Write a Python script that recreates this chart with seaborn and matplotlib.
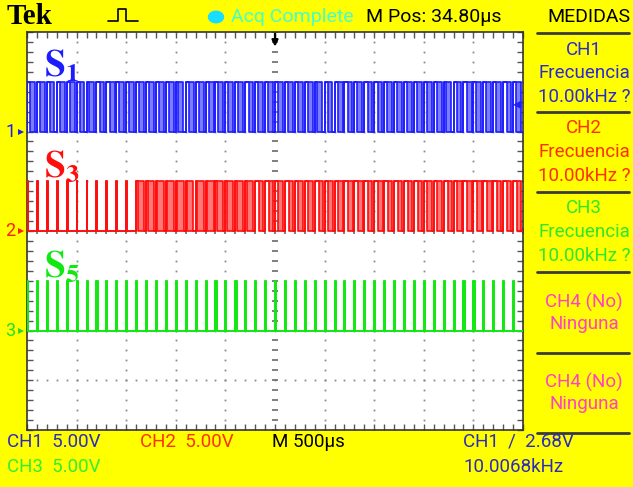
import numpy as np
import pandas as pd
import seaborn as sns
import matplotlib
matplotlib.use("Agg")
import matplotlib.pyplot as plt
from matplotlib.lines import Line2D
from matplotlib.patches import Circle

# ---------------------------------------------------------------- data
channels = ["CH1", "CH2", "CH3"]
ground_div = [2.0, 0.0, -2.0]          # channel ground markers (divisions)
volts_per_div = 5.0
pulse_volts = 5.0
period_div = 0.2                        # 100 us at 500 us/div
trigger_level_v = 2.68

# PWM fall edges per carrier period (fraction of the period); the
# persistence display keeps the earliest (a) and latest (b) fall edge.
s1_fall_a = [0.32, 0.30, 0.28, 0.31, 0.33, 0.30, 0.29, 0.32, 0.34, 0.31,
             0.28, 0.30, 0.32, 0.31, 0.29, 0.27, 0.30, 0.33, 0.32, 0.30,
             0.28, 0.31, 0.34, 0.32, 0.30, 0.29, 0.31, 0.33, 0.30, 0.28,
             0.30, 0.32, 0.31, 0.29, 0.33, 0.34, 0.31, 0.29, 0.30, 0.32,
             0.33, 0.30, 0.28, 0.31, 0.32, 0.30, 0.29, 0.32, 0.34, 0.31]
s1_fall_b = [0.80, 0.78, 0.77, 0.80, 0.82, 0.79, 0.78, 0.81, 0.83, 0.80,
             0.77, 0.79, 0.81, 0.80, 0.78, 0.76, 0.79, 0.82, 0.81, 0.79,
             0.77, 0.80, 0.83, 0.81, 0.79, 0.78, 0.80, 0.82, 0.79, 0.77,
             0.79, 0.81, 0.80, 0.78, 0.82, 0.83, 0.80, 0.78, 0.79, 0.81,
             0.82, 0.79, 0.77, 0.80, 0.81, 0.79, 0.78, 0.81, 0.83, 0.80]

s3_fall_a = [0.08, 0.09, 0.08, 0.10, 0.09, 0.08, 0.09, 0.10, 0.09, 0.08,
             0.09, 0.14, 0.15, 0.14, 0.16, 0.15, 0.13, 0.16, 0.17, 0.15,
             0.14, 0.18, 0.20, 0.36, 0.37, 0.35, 0.38, 0.36, 0.37, 0.39,
             0.36, 0.35, 0.38, 0.37, 0.36, 0.38, 0.37, 0.35, 0.36, 0.38,
             0.37, 0.36, 0.39, 0.37, 0.35, 0.36, 0.38, 0.37, 0.36, 0.37]
s3_fall_b = [0.08, 0.09, 0.08, 0.10, 0.09, 0.08, 0.09, 0.10, 0.09, 0.08,
             0.09, 0.78, 0.80, 0.79, 0.81, 0.80, 0.78, 0.81, 0.82, 0.80,
             0.79, 0.82, 0.83, 0.82, 0.83, 0.81, 0.84, 0.82, 0.83, 0.85,
             0.82, 0.81, 0.84, 0.83, 0.82, 0.84, 0.83, 0.81, 0.82, 0.84,
             0.83, 0.82, 0.85, 0.83, 0.81, 0.82, 0.84, 0.83, 0.82, 0.83]

s5_fall = [0.10, 0.11, 0.10, 0.12, 0.10, 0.11, 0.10, 0.12, 0.11, 0.10,
           0.11, 0.10, 0.12, 0.10, 0.11, 0.10, 0.11, 0.12, 0.10, 0.11,
           0.10, 0.12, 0.11, 0.10, 0.11, 0.10, 0.12, 0.10, 0.11, 0.10,
           0.11, 0.12, 0.10, 0.11, 0.10, 0.12, 0.11, 0.10, 0.11, 0.10,
           0.12, 0.10, 0.11, 0.10, 0.11, 0.12, 0.10, 0.11, 0.10, 0.11]

trace_colors = {"CH1": "#1c1cff", "CH2": "#ff0c0c", "CH3": "#10e810"}
fill_colors = {"CH1": "#7d7dff", "CH2": "#ff7878", "CH3": "#80f080"}

# ---------------------------------------------------------------- figure
W, H = 633, 487
YELLOW = "#ffff00"
sns.set_theme(style="white")
plt.rcParams["font.family"] = ["Roboto", "DejaVu Sans"]
plt.rcParams["mathtext.fontset"] = "stix"

fig = plt.figure(figsize=(W / 100, H / 100), dpi=100, facecolor=YELLOW)
ax = fig.add_axes([27 / W, 1 - 430 / H, 496 / W, 398 / H])
ax.set_facecolor("white")


def fx(x):
    return x / W


def fy(y):
    return 1 - y / H


# graticule: dotted division lines, ticked centre cross, ticked frame
fine = np.arange(0, 10.001, 0.2)
fine_y = np.arange(-4, 4.001, 0.2)
for xd in range(1, 10):
    if xd == 5:
        continue
    ax.plot(np.full_like(fine_y, xd), fine_y, ls="none", marker="s",
            ms=1.3, color="#8a8a8a", mew=0, zorder=1)
for yd in range(-3, 4):
    if yd == 0:
        continue
    ax.plot(fine, np.full_like(fine, yd), ls="none", marker="s",
            ms=1.3, color="#8a8a8a", mew=0, zorder=1)
ax.plot(np.full_like(fine_y, 5), fine_y, ls="none", marker="_", ms=5,
        mew=1.2, color="#6a6a6a", zorder=1)
ax.plot(fine, np.zeros_like(fine), ls="none", marker="|", ms=5,
        mew=1.2, color="#6a6a6a", zorder=1)

# ---------------------------------------------------------------- traces
amp_div = pulse_volts / volts_per_div
edges = {"CH1": (s1_fall_a, s1_fall_b),
         "CH2": (s3_fall_a, s3_fall_b),
         "CH3": (s5_fall, s5_fall)}

# persistence shading between earliest and latest fall edge
for ch, g in zip(channels, ground_div):
    fa, fb = edges[ch]
    spans = [(k * period_div + a * period_div, (b - a) * period_div)
             for k, (a, b) in enumerate(zip(fa, fb)) if b > a]
    if spans:
        ax.broken_barh(spans, (g, amp_div), facecolors=fill_colors[ch],
                       edgecolors="none", zorder=2)

rows = []
for ch, g in zip(channels, ground_div):
    fa, fb = edges[ch]
    for name, duty in (("a", fa), ("b", fb)):
        for k, d in enumerate(duty):
            t0 = k * period_div
            for t, v in ((t0, g), (t0, g + amp_div),
                         (t0 + d * period_div, g + amp_div),
                         (t0 + d * period_div, g),
                         (t0 + period_div, g)):
                rows.append({"channel": ch, "trace": f"{ch}-{name}",
                             "t": t, "y": v})
wave = pd.DataFrame(rows)

sns.lineplot(data=wave, x="t", y="y", hue="channel", units="trace",
             estimator=None, sort=False, palette=trace_colors,
             linewidth=1.2, legend=False, ax=ax, zorder=3)
ax.set_xlabel("")
ax.set_ylabel("")
ax.set_xlim(0, 10)
ax.set_ylim(-4, 4)
ax.set_xticks(fine)
ax.set_yticks(fine_y)
ax.tick_params(axis="both", which="both", direction="in", length=4,
               width=1, color="#555555", labelbottom=False, labelleft=False,
               top=True, right=True, bottom=True, left=True)
for sp in ax.spines.values():
    sp.set_color("#333333")
    sp.set_linewidth(1.2)

# signal names
sig_names = [r"$\mathbf{S}_{\mathbf{1}}$", r"$\mathbf{S}_{\mathbf{3}}$",
             r"$\mathbf{S}_{\mathbf{5}}$"]
for name, ch, y in zip(sig_names, channels, (66, 166, 266)):
    fig.text(fx(44), fy(y), name, color=trace_colors[ch], fontsize=27,
             va="center", ha="left")

# channel ground markers on the left edge
marker_cols = ["#2020e0", "#ff2000", "#22e022"]
for i, (g, c) in enumerate(zip(ground_div, marker_cols)):
    ax.text(-0.33, g, str(i + 1), color=c, fontsize=13, ha="center",
            va="center", clip_on=False)
    ax.plot([-0.12], [g], marker=">", ms=5, color=c, clip_on=False,
            mew=0)

# trigger position (top) and trigger level (right) markers
ax.annotate("", xy=(5, 3.65), xytext=(5, 4.02),
            arrowprops=dict(arrowstyle="-|>", color="black", lw=1.6,
                            mutation_scale=9), annotation_clip=False)
trig_y = ground_div[0] + trigger_level_v / volts_per_div
ax.annotate("", xy=(9.74, trig_y), xytext=(10.0, trig_y),
            arrowprops=dict(arrowstyle="-|>", color="#1f1fff", lw=1.6,
                            mutation_scale=9), annotation_clip=False)

# ---------------------------------------------------------------- header
fig.text(fx(7), fy(17), "Tek", fontsize=21, fontweight="bold",
         family="Liberation Serif", va="center", ha="left", color="black")
icon_x = [108, 114, 118, 118, 126, 126, 130, 138]
icon_y = [21, 21, 21, 9, 9, 21, 21, 21]
fig.add_artist(Line2D([fx(v) for v in icon_x], [fy(v) for v in icon_y],
                      color="black", lw=1.2))
fig.add_artist(Circle((fx(216), fy(17)), 7.5 / W, color="#18ddff",
                      transform=fig.transFigure))
fig.text(fx(231), fy(17), "Acq Complete", fontsize=14, color="#44ffcc",
         va="center", ha="left")
fig.text(fx(366), fy(17), "M Pos: 34.80µs", fontsize=14, color="black",
         va="center", ha="left")
fig.text(fx(589), fy(17), "MEDIDAS", fontsize=14, color="black",
         va="center", ha="center")

# ---------------------------------------------------------------- side panel
for yy in (33, 112, 192, 272, 353, 433):
    fig.add_artist(Line2D([fx(537), fx(629)], [fy(yy), fy(yy)],
                          color="#3a3a3a", lw=2))

panel = [
    (("CH1", 50), ("Frecuencia", 73), ("10.00kHz ?", 97), "#2b2bd0"),
    (("CH2", 128), ("Frecuencia", 152), ("10.00kHz ?", 176), "#ff3000"),
    (("CH3", 208), ("Frecuencia", 232), ("10.00kHz ?", 256), "#2ee62e"),
    (("CH4 (No)", 302), ("Ninguna", 324), None, "#ff40c8"),
    (("CH4 (No)", 382), ("Ninguna", 404), None, "#ff40c8"),
]
for block in panel:
    col = block[-1]
    for item in block[:-1]:
        if item is None:
            continue
        txt, yy = item
        fig.text(fx(584), fy(yy), txt, fontsize=13.5, color=col,
                 ha="center", va="center")

# ---------------------------------------------------------------- footer
fig.text(fx(7), fy(442), "CH1  5.00V", fontsize=13.5, color="#2b2bc0",
         va="center", ha="left")
fig.text(fx(140), fy(442), "CH2  5.00V", fontsize=13.5, color="#ff3000",
         va="center", ha="left")
fig.text(fx(272), fy(442), "M 500µs", fontsize=13.5, color="black",
         va="center", ha="left")
fig.text(fx(463), fy(442), "CH1  /  2.68V", fontsize=13.5, color="#2b2bc0",
         va="center", ha="left")
fig.text(fx(7), fy(467), "CH3  5.00V", fontsize=13.5, color="#33ee33",
         va="center", ha="left")
fig.text(fx(463), fy(467), "10.0068kHz", fontsize=13.5, color="#2b2bc0",
         va="center", ha="left")

fig.savefig("out.png", dpi=100, facecolor=YELLOW)
